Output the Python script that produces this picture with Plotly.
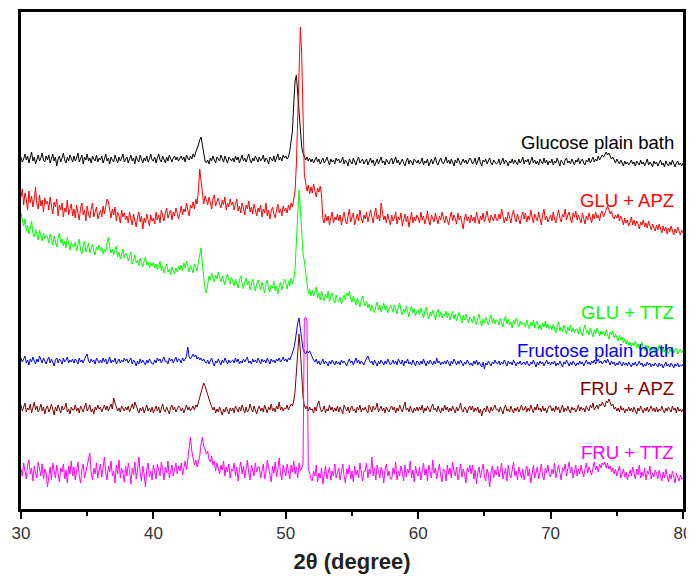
import numpy as np
import plotly.graph_objects as go

# 2-theta scan positions (degrees), 0.1 degree step
two_theta = np.round(np.linspace(30, 80, 501), 2)

# Intensities (a.u., offset stacked as in the figure); one row = 2 degrees
glucose_plain_bath = [
    352, 347, 350, 355, 349, 353, 346, 351, 357, 348, 352, 345, 350, 354, 348, 351, 356, 349, 347, 353,
    349, 354, 346, 351, 355, 348, 352, 343, 350, 353, 347, 351, 356, 349, 346, 352, 348, 354, 350, 347,
    353, 348, 351, 356, 347, 350, 354, 345, 352, 349, 355, 348, 351, 346, 353, 350, 348, 354, 347, 351,
    349, 353, 346, 350, 355, 348, 351, 345, 352, 349, 347, 354, 350, 346, 352, 348, 351, 355, 347, 350,
    352, 346, 350, 354, 348, 351, 345, 353, 349, 347, 354, 350, 346, 351, 348, 353, 347, 350, 355, 349,
    348, 352, 346, 351, 355, 349, 347, 353, 350, 346, 352, 348, 354, 350, 347, 351, 353, 349, 352, 348,
    350, 353, 349, 352, 347, 354, 351, 349, 353, 350, 355, 352, 357, 360, 364, 369, 372, 364, 355, 348,
    346, 349, 345, 351, 348, 353, 349, 346, 352, 350, 348, 354, 351, 347, 353, 349, 346, 352, 350, 348,
    351, 347, 353, 349, 352, 346, 350, 354, 348, 351, 347, 352, 355, 349, 346, 351, 348, 353, 350, 347,
    352, 348, 350, 354, 347, 351, 349, 345, 352, 350, 348, 353, 347, 351, 355, 349, 352, 348, 354, 351,
    353, 350, 352, 358, 366, 378, 405, 428, 434, 415, 395, 378, 362, 356, 352, 349, 352, 348, 351, 347,
    350, 346, 349, 352, 347, 350, 345, 349, 351, 346, 348, 352, 347, 344, 350, 347, 349, 345, 351, 348,
    350, 346, 348, 352, 345, 349, 347, 343, 350, 348, 345, 351, 347, 344, 349, 352, 346, 348, 350, 345,
    347, 350, 344, 348, 351, 346, 349, 343, 347, 350, 345, 349, 352, 346, 348, 344, 350, 347, 345, 349,
    351, 345, 348, 352, 346, 349, 344, 347, 350, 346, 343, 348, 351, 345, 349, 347, 344, 350, 348, 346,
    349, 345, 347, 351, 344, 348, 346, 350, 343, 347, 350, 345, 349, 352, 346, 344, 348, 351, 347, 345,
    348, 352, 346, 349, 345, 350, 347, 343, 349, 346, 351, 348, 344, 347, 350, 346, 349, 345, 348, 351,
    349, 345, 347, 351, 344, 348, 352, 346, 343, 349, 347, 350, 345, 348, 351, 346, 344, 349, 347, 345,
    346, 350, 344, 348, 351, 345, 349, 347, 343, 348, 346, 350, 345, 349, 347, 344, 350, 346, 348, 352,
    345, 349, 347, 350, 344, 348, 352, 346, 349, 345, 348, 344, 350, 347, 345, 351, 346, 349, 344, 348,
    346, 350, 344, 348, 346, 351, 347, 343, 349, 346, 344, 349, 351, 346, 348, 345, 350, 347, 344, 349,
    347, 351, 345, 348, 350, 346, 344, 349, 347, 351, 346, 349, 352, 347, 350, 348, 353, 349, 351, 354,
    352, 355, 357, 354, 356, 353, 350, 352, 348, 346, 350, 347, 345, 349, 346, 343, 348, 345, 347, 344,
    346, 349, 345, 347, 343, 348, 346, 344, 349, 345, 347, 343, 346, 350, 344, 347, 345, 342, 348, 345,
    347, 343, 346, 349, 344, 346, 342, 348, 345, 343, 347, 344, 349, 345, 342, 346, 348, 344, 346, 343,
    346,
]

glu_apz = [
    312, 320, 304, 316, 309, 299, 318, 306, 313, 302, 310, 322, 305, 300, 314, 303, 309, 297, 311, 305,
    308, 299, 312, 301, 295, 307, 302, 310, 293, 304, 299, 306, 292, 301, 297, 309, 294, 300, 305, 293,
    300, 291, 304, 296, 289, 301, 306, 294, 299, 288, 303, 295, 291, 300, 306, 292, 298, 302, 290, 296,
    299, 292, 303, 295, 301, 310, 307, 298, 291, 300, 294, 302, 288, 297, 293, 286, 299, 292, 296, 289,
    293, 286, 297, 290, 284, 295, 288, 282, 292, 297, 287, 293, 280, 291, 286, 295, 289, 283, 294, 288,
    291, 285, 297, 289, 294, 286, 299, 292, 288, 296, 301, 291, 295, 299, 289, 297, 293, 301, 296, 290,
    296, 303, 294, 300, 297, 306, 299, 293, 304, 301, 307, 300, 310, 305, 318, 340, 328, 312, 305, 313,
    309, 304, 312, 306, 300, 310, 314, 303, 308, 311, 305, 301, 309, 304, 312, 299, 306, 302, 310, 304,
    307, 299, 305, 310, 298, 303, 296, 306, 301, 294, 304, 300, 308, 297, 302, 295, 305, 299, 293, 301,
    297, 304, 292, 300, 296, 306, 293, 299, 290, 298, 302, 295, 291, 299, 305, 296, 300, 293, 303, 298,
    301, 296, 304, 299, 306, 302, 310, 318, 345, 385, 440, 482, 455, 390, 335, 326, 318, 324, 315, 322,
    316, 325, 319, 312, 321, 317, 323, 314, 290, 286, 295, 288, 293, 284, 291, 297, 286, 292, 289, 295,
    288, 294, 284, 291, 297, 289, 285, 293, 300, 287, 292, 296, 284, 290, 295, 288, 299, 291, 286, 294,
    290, 297, 287, 293, 299, 292, 286, 295, 301, 290, 294, 288, 306, 297, 289, 293, 286, 295, 290, 284,
    294, 288, 291, 297, 285, 292, 289, 296, 283, 291, 295, 287, 293, 282, 290, 297, 286, 292, 288, 294,
    291, 286, 297, 289, 293, 285, 290, 298, 288, 284, 294, 290, 287, 296, 291, 285, 293, 289, 297, 290,
    286, 293, 289, 284, 292, 297, 288, 294, 290, 285, 296, 289, 293, 287, 280, 291, 295, 288, 292, 286,
    294, 288, 292, 286, 297, 291, 285, 293, 289, 296, 287, 292, 298, 290, 286, 294, 291, 288, 295, 290,
    288, 295, 290, 300, 293, 286, 292, 288, 297, 290, 286, 294, 299, 291, 287, 295, 290, 285, 293, 297,
    290, 296, 287, 293, 289, 299, 292, 286, 295, 291, 288, 297, 290, 284, 294, 300, 289, 293, 287, 291,
    294, 288, 297, 290, 286, 293, 299, 291, 287, 295, 292, 300, 289, 294, 297, 290, 286, 296, 292, 298,
    289, 294, 290, 286, 296, 291, 285, 293, 289, 296, 292, 286, 295, 290, 297, 291, 294, 288, 296, 298,
    292, 296, 300, 303, 299, 295, 298, 292, 290, 294, 291, 295, 288, 293, 289, 284, 291, 286, 289, 283,
    287, 292, 284, 289, 283, 288, 285, 280, 287, 284, 289, 282, 286, 281, 288, 284, 279, 285, 282, 278,
    284, 279, 285, 281, 276, 283, 278, 282, 275, 281, 277, 283, 279, 274, 280, 276, 282, 277, 274, 279,
    276,
]

glu_ttz = [
    296, 287, 283, 290, 278, 284, 275, 281, 288, 276, 272, 280, 274, 269, 279, 273, 268, 276, 270, 274,
    272, 266, 275, 270, 264, 273, 268, 262, 271, 276, 266, 270, 263, 268, 261, 272, 265, 259, 267, 263,
    262, 267, 258, 264, 270, 259, 255, 263, 268, 257, 262, 266, 256, 260, 265, 258, 254, 262, 259, 264,
    258, 262, 255, 260, 257, 266, 272, 262, 256, 260, 254, 259, 263, 252, 257, 250, 255, 260, 251, 256,
    254, 248, 252, 257, 245, 250, 254, 246, 249, 243, 251, 246, 242, 248, 252, 244, 247, 241, 246, 243,
    247, 241, 245, 239, 244, 248, 238, 243, 236, 241, 245, 237, 240, 234, 242, 238, 235, 241, 237, 243,
    239, 244, 238, 246, 241, 248, 242, 237, 244, 240, 236, 245, 241, 238, 247, 255, 261, 245, 228, 220,
    216, 224, 233, 229, 236, 231, 227, 234, 230, 237, 232, 227, 233, 228, 224, 231, 235, 229, 225, 232,
    228, 223, 230, 226, 221, 229, 233, 225, 220, 227, 231, 224, 228, 219, 226, 230, 223, 218, 225, 229,
    224, 219, 227, 221, 216, 225, 229, 220, 217, 224, 221, 228, 218, 223, 215, 222, 227, 219, 224, 230,
    226, 220, 228, 223, 231, 225, 229, 240, 268, 300, 319, 300, 272, 255, 248, 236, 222, 215, 220, 213,
    219, 213, 217, 222, 211, 216, 209, 218, 213, 208, 215, 211, 218, 207, 213, 216, 210, 206, 214, 209,
    207, 212, 205, 210, 214, 209, 216, 213, 218, 210, 207, 213, 209, 204, 211, 207, 202, 209, 213, 206,
    203, 208, 201, 205, 198, 204, 200, 196, 203, 207, 199, 204, 197, 201, 206, 199, 203, 196, 200, 204,
    201, 197, 204, 199, 195, 202, 206, 198, 194, 200, 196, 203, 197, 192, 199, 203, 196, 200, 193, 198,
    199, 194, 201, 196, 191, 198, 202, 195, 190, 197, 193, 199, 195, 189, 196, 200, 192, 197, 191, 195,
    193, 198, 191, 196, 189, 194, 198, 190, 195, 188, 193, 197, 191, 186, 194, 189, 195, 190, 186, 192,
    190, 186, 193, 188, 184, 191, 195, 187, 183, 190, 186, 192, 188, 184, 190, 194, 186, 191, 185, 189,
    188, 184, 191, 186, 182, 189, 193, 185, 190, 184, 187, 181, 189, 185, 191, 186, 182, 188, 184, 186,
    186, 182, 189, 184, 180, 187, 183, 189, 181, 185, 188, 180, 184, 179, 186, 182, 188, 181, 185, 180,
    183, 179, 185, 180, 176, 183, 187, 178, 182, 177, 184, 180, 175, 182, 178, 184, 177, 181, 176, 180,
    180, 175, 182, 177, 173, 180, 184, 176, 179, 174, 181, 177, 172, 179, 175, 181, 176, 173, 178, 175,
    178, 173, 179, 175, 170, 177, 174, 178, 171, 175, 172, 168, 174, 169, 172, 166, 170, 165, 169, 164,
    167, 162, 166, 163, 168, 161, 165, 160, 164, 167, 161, 158, 164, 160, 163, 157, 162, 159, 161, 156,
    162, 158, 164, 159, 156, 161, 157, 163, 158, 155, 160, 157, 162, 156, 159, 161, 155, 158, 160, 156,
    159,
]

fructose_plain_bath = [
    151, 147, 150, 153, 146, 149, 144, 150, 147, 152, 148, 145, 150, 147, 153, 149, 146, 151, 148, 145,
    149, 152, 146, 150, 147, 143, 149, 151, 146, 150, 148, 145, 151, 147, 149, 152, 146, 149, 147, 150,
    146, 150, 148, 145, 151, 147, 149, 146, 150, 153, 155, 148, 146, 150, 147, 149, 145, 151, 148, 146,
    149, 146, 151, 147, 150, 145, 148, 152, 146, 149, 147, 151, 145, 148, 150, 146, 149, 147, 151, 148,
    150, 146, 148, 151, 145, 149, 147, 143, 148, 145, 150, 146, 149, 147, 144, 149, 146, 150, 148, 145,
    145, 149, 146, 151, 148, 150, 146, 149, 152, 147, 148, 145, 151, 148, 150, 146, 149, 152, 147, 150,
    149, 146, 151, 148, 150, 153, 162, 152, 150, 153, 155, 152, 154, 150, 152, 149, 151, 148, 150, 147,
    146, 149, 145, 148, 151, 146, 143, 148, 146, 150, 147, 144, 149, 146, 151, 147, 145, 149, 146, 148,
    149, 146, 151, 147, 150, 145, 148, 146, 150, 147, 149, 152, 146, 148, 145, 150, 147, 149, 146, 151,
    148, 145, 150, 147, 149, 146, 151, 148, 145, 150, 147, 149, 146, 150, 148, 151, 147, 149, 152, 148,
    150, 147, 151, 149, 153, 156, 160, 167, 178, 186, 191, 180, 166, 160, 157, 155, 158, 156, 158, 154,
    152, 149, 147, 150, 145, 148, 144, 147, 150, 145, 148, 146, 143, 148, 145, 149, 146, 144, 148, 145,
    147, 144, 149, 146, 148, 145, 143, 147, 150, 146, 148, 144, 147, 151, 146, 149, 145, 148, 146, 144,
    148, 150, 153, 149, 146, 148, 144, 149, 146, 143, 148, 145, 149, 146, 144, 148, 145, 150, 147, 144,
    146, 149, 145, 148, 144, 150, 147, 145, 149, 143, 148, 146, 150, 145, 147, 144, 149, 146, 143, 148,
    147, 144, 148, 145, 150, 146, 143, 148, 145, 149, 146, 144, 148, 145, 151, 146, 148, 144, 147, 145,
    148, 145, 149, 146, 143, 148, 145, 150, 146, 144, 148, 145, 149, 146, 143, 147, 145, 149, 146, 144,
    146, 143, 148, 145, 149, 144, 147, 145, 142, 147, 140, 146, 144, 148, 145, 143, 147, 145, 149, 146,
    145, 148, 144, 147, 145, 149, 146, 143, 148, 145, 147, 144, 149, 146, 143, 147, 145, 148, 144, 146,
    147, 144, 148, 145, 143, 147, 145, 149, 146, 142, 147, 144, 148, 145, 147, 143, 146, 149, 145, 147,
    144, 147, 145, 148, 143, 146, 144, 148, 145, 142, 147, 145, 149, 146, 143, 147, 144, 148, 146, 143,
    146, 144, 148, 145, 147, 143, 146, 149, 145, 147, 144, 148, 146, 149, 145, 147, 150, 146, 148, 145,
    147, 149, 146, 150, 147, 144, 148, 145, 147, 143, 146, 144, 148, 145, 143, 147, 144, 146, 143, 147,
    145, 142, 146, 144, 147, 143, 145, 148, 144, 146, 142, 145, 143, 147, 144, 146, 142, 145, 143, 146,
    144, 142, 146, 143, 145, 141, 144, 147, 143, 145, 142, 146, 144, 141, 145, 143, 146, 142, 144, 143,
    145,
]

fru_apz = [
    104, 98, 102, 106, 97, 101, 99, 105, 96, 102, 107, 99, 103, 97, 100, 105, 98, 102, 95, 101,
    103, 97, 100, 105, 99, 94, 102, 98, 104, 100, 96, 103, 99, 101, 106, 97, 100, 95, 102, 99,
    99, 104, 98, 101, 96, 103, 100, 97, 102, 106, 98, 101, 104, 97, 100, 95, 102, 99, 104, 100,
    102, 97, 101, 104, 99, 103, 98, 101, 105, 100, 111, 106, 102, 98, 101, 97, 103, 100, 98, 102,
    99, 103, 97, 101, 105, 100, 107, 103, 99, 96, 101, 98, 102, 96, 100, 104, 98, 101, 97, 102,
    96, 100, 103, 98, 102, 96, 101, 105, 99, 97, 102, 98, 95, 101, 104, 99, 102, 97, 100, 103,
    102, 98, 101, 96, 100, 104, 99, 102, 98, 101, 103, 99, 104, 102, 107, 111, 117, 122, 126, 123,
    118, 114, 110, 106, 103, 99, 102, 96, 100, 97, 102, 98, 94, 100, 97, 102, 99, 95, 101, 98,
    101, 96, 103, 99, 97, 102, 98, 104, 100, 96, 102, 97, 99, 105, 100, 97, 103, 99, 95, 100,
    103, 98, 101, 97, 104, 100, 96, 102, 99, 105, 98, 101, 97, 103, 100, 107, 99, 102, 98, 101,
    100, 104, 99, 102, 105, 103, 108, 118, 140, 160, 175, 158, 132, 112, 104, 100, 103, 98, 102, 99,
    100, 96, 102, 98, 105, 108, 101, 97, 99, 103, 96, 100, 98, 104, 99, 102, 97, 101, 98, 103,
    97, 102, 99, 95, 104, 100, 98, 102, 96, 101, 103, 98, 100, 96, 102, 99, 104, 97, 101, 99,
    102, 98, 96, 104, 100, 97, 103, 99, 101, 106, 97, 100, 103, 98, 101, 96, 102, 99, 97, 101,
    103, 99, 102, 96, 101, 98, 104, 100, 97, 102, 107, 99, 101, 97, 103, 99, 96, 101, 98, 102,
    98, 102, 99, 104, 96, 101, 98, 103, 100, 97, 102, 105, 99, 101, 97, 103, 99, 96, 101, 98,
    104, 99, 102, 97, 101, 98, 103, 100, 96, 102, 98, 101, 106, 99, 97, 102, 100, 96, 101, 103,
    99, 103, 97, 101, 98, 102, 96, 100, 93, 99, 101, 97, 103, 99, 96, 102, 98, 101, 104, 99,
    100, 97, 102, 99, 95, 101, 104, 98, 100, 97, 103, 99, 96, 101, 98, 102, 97, 100, 104, 99,
    99, 103, 97, 101, 98, 104, 100, 96, 102, 99, 105, 99, 101, 97, 103, 98, 101, 96, 100, 103,
    103, 98, 101, 97, 103, 99, 102, 96, 100, 104, 97, 101, 98, 103, 99, 96, 102, 99, 101, 97,
    100, 104, 98, 102, 99, 101, 97, 103, 100, 98, 104, 101, 106, 99, 102, 104, 100, 105, 103, 107,
    104, 102, 108, 106, 110, 107, 103, 105, 100, 102, 98, 101, 97, 103, 99, 101, 96, 100, 98, 102,
    98, 101, 97, 102, 99, 95, 101, 98, 103, 99, 96, 101, 98, 102, 97, 100, 103, 98, 101, 97,
    102, 97, 100, 98, 103, 99, 96, 101, 98, 102, 100, 97, 103, 99, 101, 96, 102, 98, 100, 97,
    100,
]

fru_ttz = [
    40, 33, 46, 37, 30, 44, 49, 35, 41, 28, 43, 36, 31, 47, 38, 33, 45, 30, 40, 36,
    22, 35, 42, 29, 46, 38, 31, 44, 34, 27, 41, 37, 45, 30, 39, 26, 43, 35, 48, 33,
    42, 29, 38, 47, 33, 26, 40, 45, 31, 37, 44, 50, 56, 36, 29, 41, 35, 46, 31, 39,
    45, 32, 40, 52, 36, 29, 43, 37, 48, 33, 38, 26, 44, 35, 49, 31, 41, 36, 27, 43,
    33, 46, 38, 25, 41, 34, 47, 30, 39, 52, 36, 28, 43, 35, 22, 40, 46, 32, 38, 29,
    44, 36, 30, 45, 38, 33, 47, 40, 29, 42, 36, 48, 31, 39, 44, 33, 40, 46, 35, 43,
    38, 46, 34, 41, 48, 39, 52, 60, 72, 58, 50, 44, 49, 42, 47, 53, 65, 72, 63, 60,
    55, 58, 50, 47, 53, 44, 48, 38, 46, 41, 35, 44, 39, 48, 33, 42, 37, 45, 31, 40,
    38, 46, 33, 42, 28, 40, 47, 35, 43, 31, 38, 49, 36, 29, 44, 39, 33, 46, 37, 42,
    42, 31, 38, 45, 30, 37, 49, 41, 34, 27, 43, 36, 47, 32, 40, 51, 35, 29, 44, 38,
    33, 45, 39, 30, 44, 37, 48, 35, 42, 31, 46, 38, 41, 45, 190, 192, 188, 40, 36, 30,
    28, 38, 33, 44, 27, 36, 31, 41, 25, 37, 43, 30, 35, 42, 29, 38, 33, 45, 31, 36,
    41, 29, 37, 45, 33, 26, 40, 35, 44, 30, 38, 27, 43, 34, 39, 31, 46, 35, 28, 38,
    38, 46, 31, 40, 35, 52, 33, 41, 29, 44, 36, 31, 42, 37, 26, 40, 45, 33, 38, 30,
    30, 41, 35, 47, 29, 38, 33, 43, 37, 28, 44, 32, 40, 36, 48, 31, 39, 27, 43, 35,
    33, 42, 29, 38, 46, 34, 40, 28, 44, 37, 31, 49, 36, 41, 30, 38, 45, 33, 27, 40,
    39, 28, 44, 35, 41, 31, 47, 38, 33, 42, 29, 36, 45, 32, 40, 35, 26, 41, 37, 44,
    35, 44, 30, 39, 25, 36, 42, 31, 38, 45, 33, 28, 40, 35, 22, 37, 43, 31, 39, 34,
    43, 32, 38, 46, 30, 36, 41, 28, 44, 35, 31, 39, 47, 33, 38, 29, 42, 36, 31, 40,
    29, 37, 43, 33, 40, 26, 38, 44, 31, 36, 42, 30, 38, 45, 33, 29, 41, 36, 44, 34,
    32, 40, 35, 46, 31, 39, 44, 36, 29, 41, 38, 45, 33, 40, 47, 36, 42, 31, 39, 44,
    33, 40, 35, 44, 37, 32, 40, 46, 36, 42, 38, 34, 41, 47, 39, 43, 37, 45, 41, 46,
    44, 47, 41, 46, 40, 43, 37, 41, 35, 40, 33, 38, 43, 31, 36, 40, 32, 37, 29, 34,
    39, 33, 42, 36, 30, 40, 34, 44, 31, 37, 33, 41, 29, 38, 35, 43, 30, 36, 32, 39,
    36, 30, 39, 33, 28, 37, 31, 40, 34, 27, 35, 30, 38, 32, 26, 36, 31, 28, 34, 30,
    30,
]

series_names = ["Glucose plain bath", "GLU + APZ", "GLU + TTZ",
                "Fructose plain bath", "FRU + APZ", "FRU + TTZ"]
series_values = [glucose_plain_bath, glu_apz, glu_ttz,
                 fructose_plain_bath, fru_apz, fru_ttz]
series_colors = ["#000000", "#ff0000", "#00ff00", "#0000ff", "#800000", "#ff00ff"]
label_y = [367, 309, 197, 159, 121, 57]

for v in series_values:
    assert len(v) == len(two_theta), len(v)

FONT = "Liberation Sans, Arial, sans-serif"

fig = go.Figure()
for name, vals, col in zip(series_names, series_values, series_colors):
    fig.add_trace(go.Scatter(x=two_theta, y=vals, mode="lines", name=name,
                             line=dict(color=col, width=1), showlegend=False))

for name, col, ly in zip(series_names, series_colors, label_y):
    fig.add_annotation(x=79.45, y=ly, text=name, showarrow=False,
                       xanchor="right", yanchor="middle",
                       font=dict(family=FONT, size=18.5, color=col))

# the page body adds an 8 px margin, so the figure is 8 px smaller on each side
fig.update_layout(
    width=686, height=568,
    margin=dict(l=13, r=11, t=4, b=67),
    paper_bgcolor="white", plot_bgcolor="white",
    font=dict(family=FONT),
)
fig.update_xaxes(
    range=[30, 80], tickvals=[30, 40, 50, 60, 70, 80],
    ticks="outside", ticklen=7, tickwidth=2, tickcolor="black",
    minor=dict(tickvals=[35, 45, 55, 65, 75], ticks="outside", ticklen=4,
               tickwidth=2, tickcolor="black"),
    showline=True, linewidth=2.5, linecolor="black", mirror=True,
    showgrid=False, zeroline=False, automargin=False,
    tickfont=dict(family=FONT, size=17, color="#333333"),
    title=dict(text="<b>2θ (degree)</b>", standoff=12,
               font=dict(family=FONT, size=22, color="#222222")),
)
fig.update_yaxes(
    range=[0, 497], showticklabels=False, ticks="",
    showline=True, linewidth=2.5, linecolor="black", mirror=True,
    showgrid=False, zeroline=False, automargin=False,
)

fig.write_html("out.html")
